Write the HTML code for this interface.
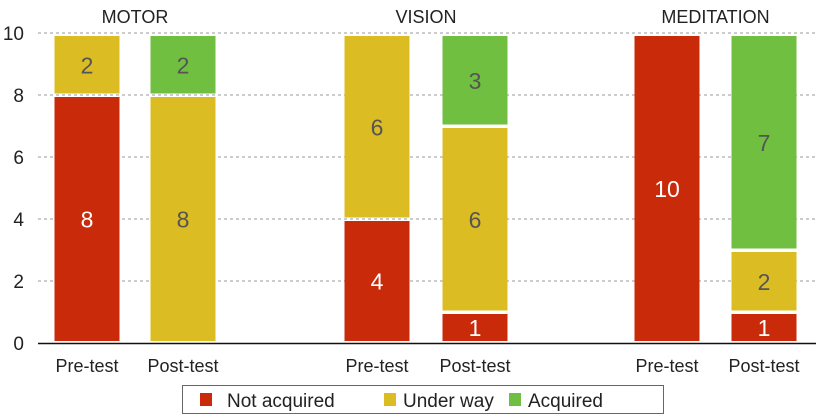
<!DOCTYPE html>
<html><head><meta charset="utf-8"><style>
body{margin:0;background:#fff;}
svg{display:block;font-family:"Liberation Sans",sans-serif;}
</style></head><body>
<svg id="chart" width="816" height="419"></svg>
<script>
const groups=["MOTOR","VISION","MEDITATION"];
const bars=["Pre-test","Post-test","Pre-test","Post-test","Pre-test","Post-test"];
const notAcquired=[8,0,4,1,10,1];
const underWay=[2,8,6,6,0,2];
const acquired=[0,2,0,3,0,7];
const yTicks=[0,2,4,6,8,10];
const seriesNames=["Not acquired","Under way","Acquired"];
const colors=["#c92a0a","#dbbc22","#70bf41"];
const textColors=["#ffffff","#555555","#555555"];
const NS="http://www.w3.org/2000/svg";
const svg=document.getElementById('chart');
function y(v){return 343-v*31;}
const barCenters=[87,183,377,475,667,764];
function mk(t,a){const e=document.createElementNS(NS,t);for(const k in a)e.setAttribute(k,a[k]);svg.appendChild(e);return e;}
yTicks.forEach(t=>{
  if(t>0){const g=mk('line',{x1:38,x2:816,y1:y(t),y2:y(t),stroke:'#999','stroke-dasharray':'3,3','stroke-width':1});
  
  }
  const tx=mk('text',{x:24,y:y(t)+7,'text-anchor':'end','font-size':19,fill:'#222'});tx.textContent=t;
  
  
});
const series=[notAcquired,underWay,acquired];
bars.forEach((b,i)=>{
  let base=0;
  series.forEach((s,k)=>{
    const v=s[i]; if(!v) return;
    const top=base+v;
    const y1=y(top)+(top>=10?3:2), y2=y(base)-(base===0?2:1.5);
    const r=mk('rect',{x:barCenters[i]-32.5,y:y1,width:65,height:y2-y1,fill:colors[k]});
    
    
    const t=mk('text',{x:barCenters[i],y:(y1+y2)/2+8.5,'text-anchor':'middle','font-size':23,fill:textColors[k]});t.textContent=v;
    
    
    base=top;
  });
  const l=mk('text',{x:barCenters[i],y:372,'text-anchor':'middle','font-size':18,fill:'#222'});l.textContent=b;
  
  
});
groups.forEach((g,j)=>{
  const cx=(barCenters[2*j]+barCenters[2*j+1])/2;
  const t=mk('text',{x:cx,y:23,'text-anchor':'middle','font-size':18,fill:'#222'});t.textContent=g;
  
  
});
const ax=mk('line',{x1:38,x2:816,y1:343.5,y2:343.5,stroke:'#111','stroke-width':1.5});


const lb=mk('rect',{x:182.5,y:385.5,width:481,height:28,fill:'#fff',stroke:'#666'});


const lx=[200,384,509];
const ltx=[227,403,528];
seriesNames.forEach((n,k)=>{
  const s=mk('rect',{x:lx[k],y:393,width:12,height:13,fill:colors[k]});
  
  
  const t=mk('text',{x:ltx[k],y:407,'font-size':19,fill:'#222'});t.textContent=n;
  
  
});
</script>
</body></html>
